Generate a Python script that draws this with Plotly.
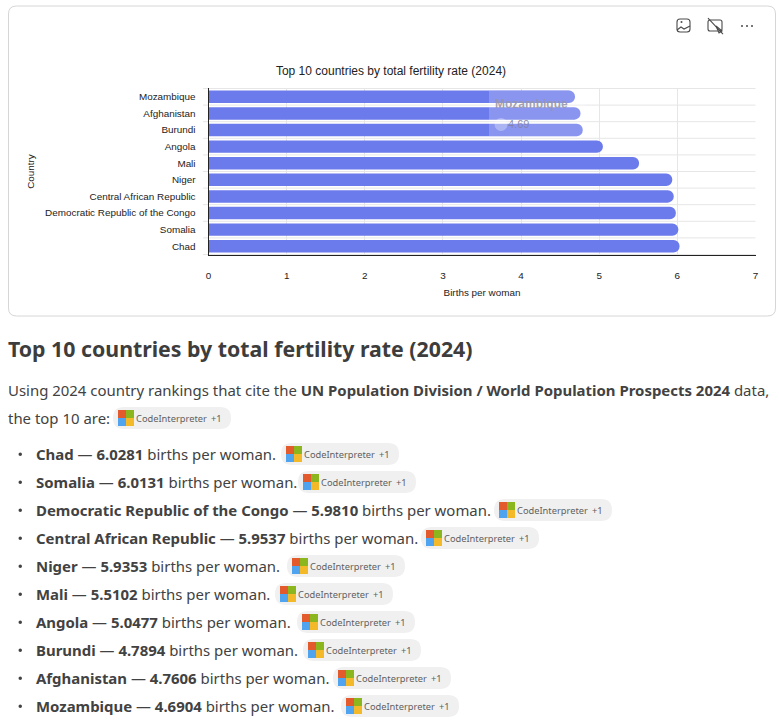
import plotly.graph_objects as go

W, H = 779, 723

# Fertility ranking, drawn from top of the axis to the bottom
countries = ["Mozambique", "Afghanistan", "Burundi", "Angola", "Mali", "Niger",
             "Central African Republic", "Democratic Republic of the Congo", "Somalia", "Chad"]
births = [4.6904, 4.7606, 4.7894, 5.0477, 5.5102, 5.9353, 5.9537, 5.9810, 6.0131, 6.0281]

x_ticks = [0, 1, 2, 3, 4, 5, 6, 7]

BODY_FONT = "Noto Sans"
CHART_FONT = "Liberation Sans"
TEXT = "#424242"
BODY_SIZE = 14.95


def px(x):
    return x / W


def py(y):
    return 1 - y / H


shapes, notes = [], []


def rect(x0, y0, x1, y1, fill, line="rgba(0,0,0,0)", width=0):
    shapes.append(dict(type="rect", xref="paper", yref="paper",
                       x0=px(x0), x1=px(x1), y0=py(y0), y1=py(y1),
                       fillcolor=fill, line=dict(color=line, width=width)))


def rounded_path(x0, y0, x1, y1, r):
    # SVG path for a rounded rectangle in paper fractions
    def p(a, b):
        return f"{px(a):.5f},{py(b):.5f}"
    return (f"M {p(x0 + r, y0)} L {p(x1 - r, y0)} Q {p(x1, y0)} {p(x1, y0 + r)} "
            f"L {p(x1, y1 - r)} Q {p(x1, y1)} {p(x1 - r, y1)} L {p(x0 + r, y1)} "
            f"Q {p(x0, y1)} {p(x0, y1 - r)} L {p(x0, y0 + r)} Q {p(x0, y0)} {p(x0 + r, y0)} Z")


def poly(points, color, width=1.1):
    d = "M " + " L ".join(f"{px(a):.5f},{py(b):.5f}" for a, b in points)
    shapes.append(dict(type="path", xref="paper", yref="paper", path=d,
                       line=dict(color=color, width=width)))


def text(x, y, s, size=BODY_SIZE, color=TEXT, family=BODY_FONT, anchor="left"):
    # Annotations carry a small inner pad, hence the shift to the left
    notes.append(dict(xref="paper", yref="paper", x=px(x - 2), y=py(y), text=s, showarrow=False,
                      xanchor=anchor, yanchor="middle", align="left",
                      font=dict(family=family, size=size, color=color)))


def citation_pill(x, y):
    shapes.append(dict(type="path", xref="paper", yref="paper",
                       path=rounded_path(x, y - 11, x + 118, y + 11, 11),
                       fillcolor="#f0f0f0", line=dict(width=0)))
    rect(x + 5, y - 8, x + 13, y, "#e35b2d")
    rect(x + 13, y - 8, x + 21, y, "#8cb61d")
    rect(x + 5, y, x + 13, y + 8, "#4fa3ef")
    rect(x + 13, y, x + 21, y + 8, "#f4b928")
    text(x + 23, y, "CodeInterpreter", size=9.3, color="#5f5f5f")
    text(x + 98, y, "+1", size=9.3, color="#5f5f5f")


# Card around the chart
shapes.append(dict(type="path", xref="paper", yref="paper",
                   path=rounded_path(8.5, 6, 775.5, 316, 8),
                   line=dict(color="#d6d6d6", width=1), layer="below"))

# Toolbar glyphs in the top right corner
ICON = "#4a4a4a"
shapes.append(dict(type="path", xref="paper", yref="paper",
                   path=rounded_path(677, 19, 690, 32, 3), line=dict(color=ICON, width=1.1)))
poly([(677, 30), (681, 27), (684, 29), (690, 26)], ICON)
shapes.append(dict(type="circle", xref="paper", yref="paper",
                   x0=px(680.5), x1=px(682.5), y0=py(21), y1=py(23),
                   fillcolor=ICON, line=dict(width=0)))
shapes.append(dict(type="path", xref="paper", yref="paper",
                   path=rounded_path(708, 20, 722, 31, 2), line=dict(color=ICON, width=1.1)))
poly([(708, 18), (723, 34)], ICON)
poly([(716, 26), (719, 33), (722, 31), (716, 26)], ICON)
for cx in (742, 747, 752):
    shapes.append(dict(type="circle", xref="paper", yref="paper",
                       x0=px(cx - 1), x1=px(cx + 1), y0=py(25), y1=py(27),
                       fillcolor=ICON, line=dict(width=0)))

# Row separators sit between the categories
for i in range(len(countries) + 1):
    shapes.append(dict(type="line", xref="paper", yref="y", x0=px(203), x1=px(755.5),
                       y0=i - 0.5, y1=i - 0.5, layer="below",
                       line=dict(color="#e6e6e6", width=1)))

# Faded tooltip left over the first bars
TIP_FILL = "rgba(255,255,255,0.2)"
rect(489, 91, 585, 136, TIP_FILL)
shapes.append(dict(type="circle", xref="paper", yref="paper",
                   x0=px(494.5), x1=px(507.5), y0=py(118), y1=py(131),
                   fillcolor="rgba(255,255,255,0.3)", line=dict(width=0)))
text(495, 104, "<b>Mozambique</b>", size=12, color="rgba(150,150,170,0.9)", family=CHART_FONT)
text(508, 124, f"{births[0]:.2f}", size=11, color="rgba(130,130,165,0.9)", family=CHART_FONT)

# Written summary under the card
text(8, 348, "<b>Top 10 countries by total fertility rate (2024)</b>", size=21.3, color="#3d3d3d")
text(8, 390, "Using 2024 country rankings that cite the <b>UN Population Division / World Population "
             "Prospects 2024</b> data,")
text(8, 418, "the top 10 are:")
citation_pill(113, 418)

pill_left = [341, 333, 303, 297, 275, 287, 421, 494, 298, 281]
row_y = [706, 678, 650, 622, 594, 566, 538, 510, 482, 454]
for name, value, left, y in zip(countries, births, pill_left, row_y):
    shapes.append(dict(type="circle", xref="paper", yref="paper",
                       x0=px(18.5), x1=px(22), y0=py(y - 1.5), y1=py(y + 2),
                       fillcolor="#424242", line=dict(width=0)))
    text(36, y, f"<b>{name}</b> — <b>{value:.4f}</b> births per woman.")
    citation_pill(left, y)

fig = go.Figure(go.Bar(
    x=births, y=countries, orientation="h",
    marker=dict(color="#6c7bec", line=dict(width=0), cornerradius=6),
    hoverinfo="skip",
))

fig.update_layout(
    width=W, height=H, margin=dict(l=0, r=0, t=0, b=0, autoexpand=False),
    paper_bgcolor="white", plot_bgcolor="white", showlegend=False, bargap=0.25,
    font=dict(family=CHART_FONT, size=9.9, color="#222222"),
    title=dict(text="Top 10 countries by total fertility rate (2024)", x=px(391), y=py(71),
               xanchor="center", yanchor="middle", font=dict(family=CHART_FONT, size=12, color="#222222")),
    xaxis=dict(domain=[px(208.5), px(755.5)], range=[0, 7], tickvals=x_ticks,
               showgrid=True, gridcolor="#e6e6e6", gridwidth=1, zeroline=False,
               showline=True, linecolor="#222222", linewidth=1, ticks="", ticklabelstandoff=11,
               title=dict(text="Births per woman", standoff=9, font=dict(size=9.9))),
    yaxis=dict(domain=[py(255), py(88)], categoryorder="array", categoryarray=countries,
               autorange="reversed", showgrid=False, zeroline=False,
               showline=True, linecolor="#222222", linewidth=1, ticks="", ticklabelstandoff=10,
               title=dict(text="Country", standoff=8, font=dict(size=9.9))),
    shapes=shapes, annotations=notes,
)

fig.write_html("out.html", config=dict(displayModeBar=False))
